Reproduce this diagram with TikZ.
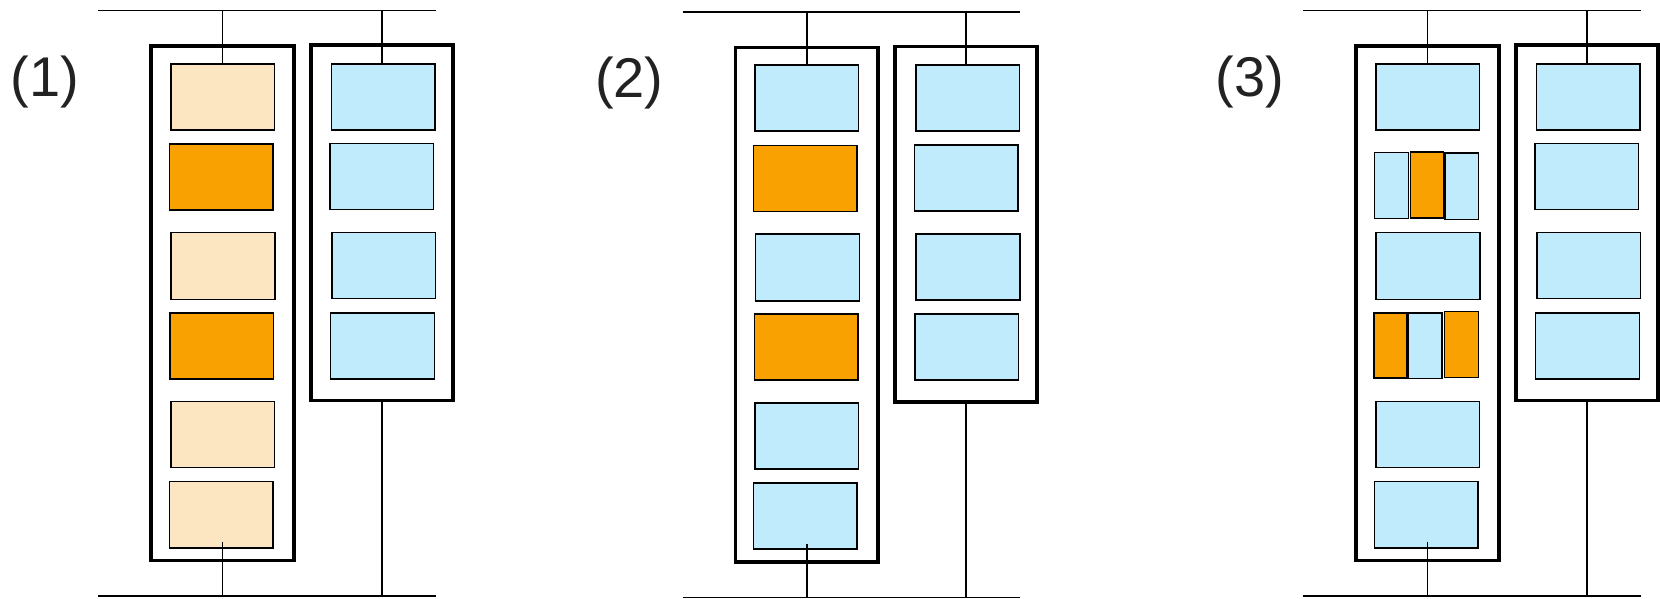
\documentclass[tikz,border=0pt]{standalone}
\usepackage{fontspec}
\setmainfont{Liberation Sans}
\usetikzlibrary{calc}

\definecolor{peach}{HTML}{FCE6C1}
\definecolor{amber}{HTML}{F9A100}
\definecolor{sky}{HTML}{C0EBFC}
\definecolor{ink}{HTML}{222222}

\tikzset{
  cell/.style={draw=black, line width=1.6pt, inner sep=0pt, outer sep=0pt},
  shell/.style={draw=black, line width=3.6pt, inner sep=0pt, outer sep=0pt},
  wire/.style={draw=black, line width=1.4pt},
  tag/.style={font=\fontsize{56}{62}\selectfont, text=ink, inner sep=0pt, anchor=base west},
}

% a filled cell given by its corners: name, x1, y1, x2, y2, fill
\newcommand\drawcell[6]{%
  \node[cell, fill=#6, minimum width={(#4-#2)*1pt}, minimum height={(#5-#3)*1pt}]
    (#1) at ({(#2+#4)/2},{(#3+#5)/2}) {};}
% an empty frame given by its corners: name, x1, y1, x2, y2
\newcommand\drawshell[5]{%
  \node[shell, minimum width={(#4-#2)*1pt}, minimum height={(#5-#3)*1pt}]
    (#1) at ({(#2+#4)/2},{(#3+#5)/2}) {};}

% one panel: prefix, x shift, y shift, label, fill of the plain left cells
\newcommand\drawpanel[5]{%
  \begin{scope}[shift={(#2,#3)}]
    \node[tag] (#1tag) at (10.5,96) {#4};
    \coordinate (#1tl) at (98.2,10.3);
    \coordinate (#1tr) at (435.7,10.3);
    \coordinate (#1bl) at (98.2,596);
    \coordinate (#1br) at (435.7,596);
    \draw[wire] (#1tl) -- (#1tr);
    \draw[wire] (#1bl) -- (#1br);
    \drawshell{#1fL}{151.1}{45.8}{293.9}{560.6}
    \drawshell{#1fR}{310.7}{45.0}{452.9}{400.5}
    % left column, plain cells
    \drawcell{#1L1}{170.7}{63.7}{274.3}{129.7}{#5}
    \drawcell{#1L3}{171.1}{232.6}{275.0}{299.4}{#5}
    \drawcell{#1L5}{170.7}{401.6}{274.3}{467.6}{#5}
    \drawcell{#1L6}{169.3}{481.3}{272.9}{547.7}{#5}
    % right column
    \drawcell{#1R1}{331.4}{63.7}{435.0}{129.7}{sky}
    \drawcell{#1R2}{330.0}{143.4}{433.6}{209.4}{sky}
    \drawcell{#1R3}{331.8}{232.6}{435.4}{298.6}{sky}
    \drawcell{#1R4}{330.4}{312.7}{434.3}{378.7}{sky}
    % feeders
    \draw[wire] (#1fL.north |- #1tl) -- (#1fL.north |- #1L1.north);
    \draw[wire] (#1fR.north |- #1tl) -- (#1fR.north |- #1R1.north);
    \draw[wire] ($(#1fL.south |- #1L6.south)+(0,-5.4)$) -- (#1fL.south |- #1bl);
    \draw[wire] (#1fR.south) -- (#1fR.south |- #1br);
  \end{scope}}

\begin{document}
\begin{tikzpicture}[x=1pt, y=-1pt]
  \useasboundingbox (0,0) rectangle (1660,598);

  % (1)
  \drawpanel{a}{0}{0}{(1)}{peach}
  \drawcell{aL2}{169.3}{143.8}{272.9}{209.8}{amber}
  \drawcell{aL4}{170.0}{312.7}{273.6}{378.7}{amber}

  % (2)
  \drawpanel{b}{584.3}{1.5}{(2)}{sky}
  \begin{scope}[shift={(584.3,1.5)}]
    \drawcell{bL2}{169.3}{143.8}{272.9}{209.8}{amber}
    \drawcell{bL4}{170.0}{312.7}{273.6}{378.7}{amber}
  \end{scope}

  % (3)
  \drawpanel{c}{1205}{0}{(3)}{sky}
  \begin{scope}[shift={(1205,0)}]
    \drawcell{cL2a}{169.5}{152.5}{203.4}{218.6}{sky}
    \drawcell{cL2b}{205.3}{151.8}{238.6}{217.9}{amber}
    \drawcell{cL2c}{240.2}{152.8}{273.6}{219.5}{sky}
    \drawcell{cL4a}{168.8}{312.7}{202.2}{378.1}{amber}
    \drawcell{cL4b}{203.6}{312.7}{236.8}{378.3}{sky}
    \drawcell{cL4c}{239.6}{311.6}{273.3}{377.6}{amber}
  \end{scope}
\end{tikzpicture}
\end{document}
